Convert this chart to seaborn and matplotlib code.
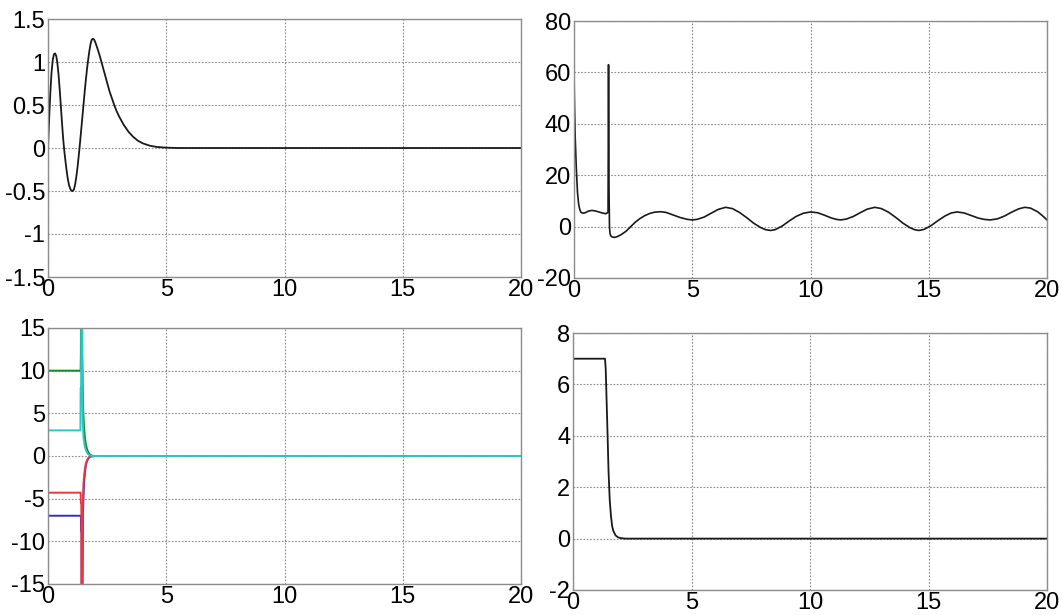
import numpy as np
import pandas as pd
import matplotlib
matplotlib.use("Agg")
import matplotlib.pyplot as plt
from matplotlib.ticker import FuncFormatter, FixedLocator
import seaborn as sns

# ---------------- data ----------------
# top-left panel
tl_t = [0, 0.05, 0.1, 0.15, 0.2, 0.25, 0.3, 0.35, 0.4, 0.45, 0.5, 0.55, 0.6, 0.65,
        0.7, 0.75, 0.8, 0.85, 0.9, 0.95, 1.0, 1.05, 1.1, 1.15, 1.2, 1.25, 1.3, 1.35,
        1.4, 1.45, 1.5, 1.55, 1.6, 1.65, 1.7, 1.75, 1.8, 1.85, 1.9, 1.95, 2.0, 2.1,
        2.2, 2.3, 2.4, 2.5, 2.6, 2.7, 2.8, 2.9, 3.0, 3.2, 3.4, 3.6, 3.8, 4.0, 4.3,
        4.6, 5.0, 5.5, 20]
tl_y = [0, 0.35, 0.65, 0.88, 1.02, 1.09, 1.10, 1.07, 0.98, 0.84, 0.66, 0.46, 0.26, 0.08,
        -0.06, -0.18, -0.29, -0.38, -0.44, -0.48, -0.50, -0.50, -0.48, -0.42, -0.33, -0.22, -0.09, 0.05,
        0.20, 0.35, 0.50, 0.65, 0.79, 0.92, 1.03, 1.13, 1.21, 1.26, 1.27, 1.26, 1.23, 1.15,
        1.06, 0.96, 0.86, 0.76, 0.66, 0.58, 0.50, 0.43, 0.37, 0.27, 0.19, 0.13, 0.085, 0.055, 0.027,
        0.012, 0.004, 0.0, 0.0]

# top-right panel
tr_t = [0, 0.02, 0.05, 0.1, 0.15, 0.2, 0.25, 0.3, 0.4, 0.5, 0.6, 0.75, 0.9, 1.05, 1.2,
        1.35, 1.44, 1.46, 1.48, 1.50, 1.52, 1.55, 1.6, 1.7, 1.8, 1.9, 2.0, 2.2, 2.4, 2.6,
        2.8, 3.0, 3.2, 3.4, 3.66, 3.9, 4.2, 4.5, 4.8, 5.0, 5.2, 5.5, 5.8, 6.1, 6.41, 6.7,
        7.0, 7.3, 7.6, 7.9, 8.1, 8.31, 8.5, 8.8, 9.1, 9.4, 9.7, 10.0, 10.3, 10.6, 10.9,
        11.1, 11.27, 11.5, 11.8, 12.1, 12.4, 12.72, 13.0, 13.3, 13.6, 13.9, 14.2, 14.4,
        14.58, 14.8, 15.1, 15.4, 15.7, 15.95, 16.2, 16.5, 16.8, 17.1, 17.35, 17.6, 17.9,
        18.2, 18.5, 18.8, 19.06, 19.3, 19.6, 19.8, 20.0]
tr_y = [60, 48, 35, 22, 13, 8.5, 6.5, 5.5, 5.2, 5.5, 6.0, 6.3, 6.1, 5.7, 5.3,
        5.0, 5.6, 63, 15, 0, -2.5, -3.5, -4.0, -4.2, -4.0, -3.6, -3.1, -1.8, 0, 1.8,
        3.2, 4.3, 5.1, 5.6, 5.8, 5.5, 4.5, 3.5, 2.8, 2.6, 2.8, 3.7, 5.2, 6.7, 7.5, 7.0,
        5.5, 3.5, 1.3, -0.4, -1.2, -1.5, -1.2, 0.2, 2.2, 4.0, 5.2, 5.7, 5.4, 4.4, 3.3,
        2.8, 2.6, 2.9, 3.9, 5.4, 6.8, 7.5, 7.0, 5.6, 3.6, 1.4, -0.4, -1.2,
        -1.5, -1.1, 0.4, 2.4, 4.2, 5.3, 5.7, 5.3, 4.3, 3.3, 2.8, 2.6, 3.0,
        4.1, 5.6, 6.9, 7.5, 7.2, 5.8, 4.3, 2.6]

# bottom-left panel (four states)
g_t = [0, 1.38, 1.39, 1.41, 1.43, 1.45, 1.48, 1.52, 1.56, 1.6, 1.65, 1.7, 1.75, 1.8, 1.85, 1.9, 2.0, 20]
g_y = [10, 10, 12, 40, 25, 12, 6, 3.5, 2.2, 1.4, 0.8, 0.45, 0.25, 0.12, 0.05, 0.02, 0, 0]
c_t = [0, 1.37, 1.38, 1.40, 1.42, 1.44, 1.47, 1.5, 1.55, 1.6, 1.65, 1.7, 1.75, 1.8, 1.9, 2.0, 20]
c_y = [3, 3, 8, 8, 30, 10, 4, 2.2, 1.2, 0.7, 0.4, 0.2, 0.1, 0.05, 0.01, 0, 0]
r_t = [0, 1.38, 1.39, 1.41, 1.42, 1.44, 1.47, 1.5, 1.55, 1.6, 1.65, 1.7, 1.75, 1.8, 1.9, 2.0, 20]
r_y = [-4.3, -4.3, -5.5, -5.7, -40, -20, -6, -3.2, -1.7, -0.9, -0.5, -0.25, -0.12, -0.05, -0.01, 0, 0]
b_t = [0, 1.39, 1.40, 1.42, 1.43, 1.45, 1.48, 1.52, 1.56, 1.6, 1.65, 1.7, 1.75, 1.8, 1.9, 2.0, 20]
b_y = [-7, -7, -8.8, -9, -40, -20, -6.5, -3.4, -2, -1.1, -0.6, -0.3, -0.15, -0.06, -0.02, 0, 0]

# bottom-right panel
br_t = [0, 1.35, 1.38, 1.42, 1.46, 1.50, 1.55, 1.60, 1.65, 1.70, 1.80, 1.90, 2.0, 2.2, 20]
br_y = [7, 7, 6.6, 5.3, 4.0, 2.6, 1.5, 0.9, 0.5, 0.3, 0.12, 0.05, 0.02, 0, 0]

x_ticks = [0, 5, 10, 15, 20]
tl_yticks = [-1.5, -1, -0.5, 0, 0.5, 1, 1.5]
tr_yticks = [-20, 0, 20, 40, 60, 80]
bl_yticks = [-15, -10, -5, 0, 5, 10, 15]
br_yticks = [-2, 0, 2, 4, 6, 8]

# ---------------- styling ----------------
sns.set_theme(style="white")
plt.rcParams["font.family"] = ["Liberation Sans", "DejaVu Sans"]
plt.rcParams["axes.unicode_minus"] = False

fig = plt.figure(figsize=(10.62, 6.15), dpi=100)
fig.patch.set_facecolor("white")

W, H = 1062, 615
def box(l, t, r, b):
    return [l / W, 1 - b / H, (r - l) / W, (b - t) / H]

ax_tl = fig.add_axes(box(48, 19, 521, 277))
ax_tr = fig.add_axes(box(574, 21, 1047, 278))
ax_bl = fig.add_axes(box(48, 328, 521, 584))
ax_br = fig.add_axes(box(573, 333, 1047, 590))

fmt = FuncFormatter(lambda v, p: "%g" % v)

def style(ax, yticks):
    ax.set_xlim(0, 20)
    ax.set_ylim(yticks[0], yticks[-1])
    ax.xaxis.set_major_locator(FixedLocator(x_ticks))
    ax.yaxis.set_major_locator(FixedLocator(yticks))
    ax.xaxis.set_major_formatter(fmt)
    ax.yaxis.set_major_formatter(fmt)
    ax.grid(True, linestyle=(0, (1.5, 1.5)), color="#8a8a8a", linewidth=0.8)
    for s in ax.spines.values():
        s.set_color("#8c8c8c")
        s.set_linewidth(1.0)
    ax.tick_params(axis="both", direction="in", length=3, color="#8c8c8c",
                   labelsize=17, labelcolor="black")
    ax.tick_params(axis="x", pad=1.5)
    ax.tick_params(axis="y", pad=2)
    ax.set_xlabel("")
    ax.set_ylabel("")
    ax.set_facecolor("white")

line_kw = dict(estimator=None, sort=False, legend=False)

sns.lineplot(data=pd.DataFrame({"t": tl_t, "y": tl_y}), x="t", y="y", ax=ax_tl,
             color="#1a1a1a", linewidth=1.3, **line_kw)
style(ax_tl, tl_yticks)

sns.lineplot(data=pd.DataFrame({"t": tr_t, "y": tr_y}), x="t", y="y", ax=ax_tr,
             color="#1a1a1a", linewidth=1.2, **line_kw)
style(ax_tr, tr_yticks)

bl = pd.concat([
    pd.DataFrame({"t": b_t, "y": b_y, "s": "x4"}),
    pd.DataFrame({"t": r_t, "y": r_y, "s": "x3"}),
    pd.DataFrame({"t": g_t, "y": g_y, "s": "x1"}),
    pd.DataFrame({"t": c_t, "y": c_y, "s": "x2"}),
], ignore_index=True)
pal = {"x4": "#2f2fd0", "x3": "#e8383f", "x1": "#178a24", "x2": "#2cc6c6"}
sns.lineplot(data=bl, x="t", y="y", hue="s", units="s", palette=pal, ax=ax_bl,
             linewidth=1.4, **line_kw)
style(ax_bl, bl_yticks)

sns.lineplot(data=pd.DataFrame({"t": br_t, "y": br_y}), x="t", y="y", ax=ax_br,
             color="#1a1a1a", linewidth=1.3, **line_kw)
style(ax_br, br_yticks)

fig.savefig("out.png", dpi=100, facecolor="white")
